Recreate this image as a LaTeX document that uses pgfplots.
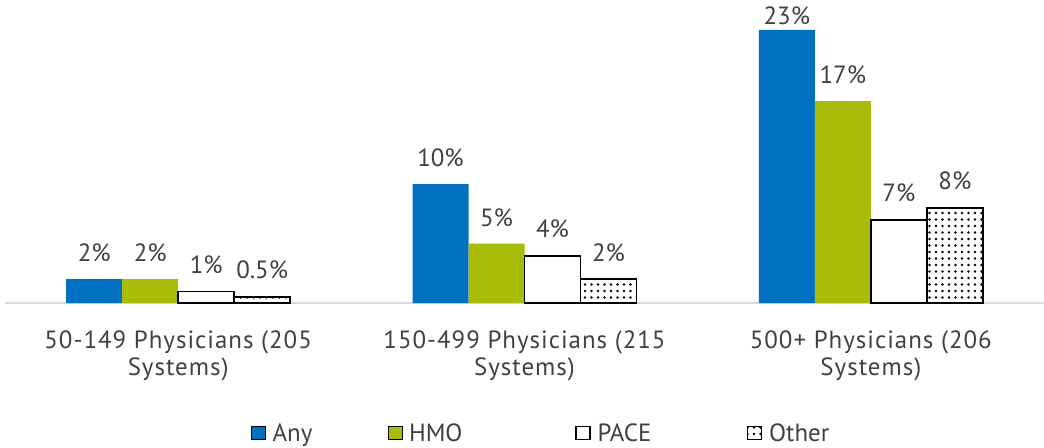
\documentclass[border=0pt]{standalone}
\usepackage{pgfplots}
\pgfplotsset{compat=1.18}
\usepackage{fontspec}
\setmainfont{PT Sans}
\newfontfamily\tickfont{PT Sans}[LetterSpace=4]
\usetikzlibrary{patterns.meta}
\definecolor{anyc}{HTML}{0070C0}
\definecolor{hmoc}{HTML}{A9BC0A}
\definecolor{txt}{HTML}{404040}
\definecolor{axc}{HTML}{D9D9D9}
\newcommand\lowlabel[1]{\raisebox{-12bp}[\height][0pt]{#1}}
\begin{document}
\begin{tikzpicture}
\begin{axis}[
  scale only axis,
  width=1039bp, height=297bp,
  xmin=-0.5, xmax=2.5, ymin=0, ymax=25,
  ybar=0pt, bar width=56bp,
  axis x line*=bottom, axis y line=none,
  x axis line style={axc, line width=1.2pt, -},
  xtick=data, xtick style={draw=none},
  xticklabels={{50-149 Physicians (205\\Systems)},{150-499 Physicians (215\\Systems)},{500+ Physicians (206\\Systems)}},
  xticklabel style={align=center, font=\tickfont\fontsize{25}{27}\selectfont, text=txt, inner sep=0pt, yshift=-23bp},
  nodes near coords={\pgfplotspointmeta},
  nodes near coords style={font=\fontsize{25}{27}\selectfont, text=txt, inner sep=0pt, yshift=17bp},
  point meta=explicit symbolic,
  legend style={draw=none, at={(0.2368,-0.4377)}, anchor=west, legend columns=4,
    inner sep=0pt, nodes={inner sep=0pt},
    font=\fontsize{25}{27}\selectfont, text=txt,
    /tikz/every even column/.append style={column sep=0bp},
    /tikz/every odd column/.append style={column sep=7bp}},
  legend image code/.code={\draw[#1] (0bp,-6.5bp) rectangle (14bp,6.5bp);},
  clip=false,
]
\addplot[fill=anyc, draw=none] coordinates {(0,2) [2\%] (1,10) [10\%] (2,23) [\lowlabel{23\%}]};
\addplot[fill=hmoc, draw=none] coordinates {(0,2) [2\%] (1,5) [5\%] (2,17) [17\%]};
\addplot[fill=white, draw=black, line width=1.5pt] coordinates {(0,0.95) [1\%] (1,3.96) [4\%] (2,7) [7\%]};
\addplot[pattern={Dots[distance=6.5bp, radius=1.35bp]}, draw=black, line width=1.6pt] coordinates {(0,0.5) [0.5\%] (1,2) [2\%] (2,8) [8\%]};
\legend{\makebox[115bp][l]{Any},\makebox[166bp][l]{HMO},\makebox[149bp][l]{PACE},Other}
\end{axis}
\pgfresetboundingbox
\path ([xshift=-5bp,yshift=-144bp]current axis.south west) rectangle ([yshift=6bp]current axis.north east);
\end{tikzpicture}
\end{document}
